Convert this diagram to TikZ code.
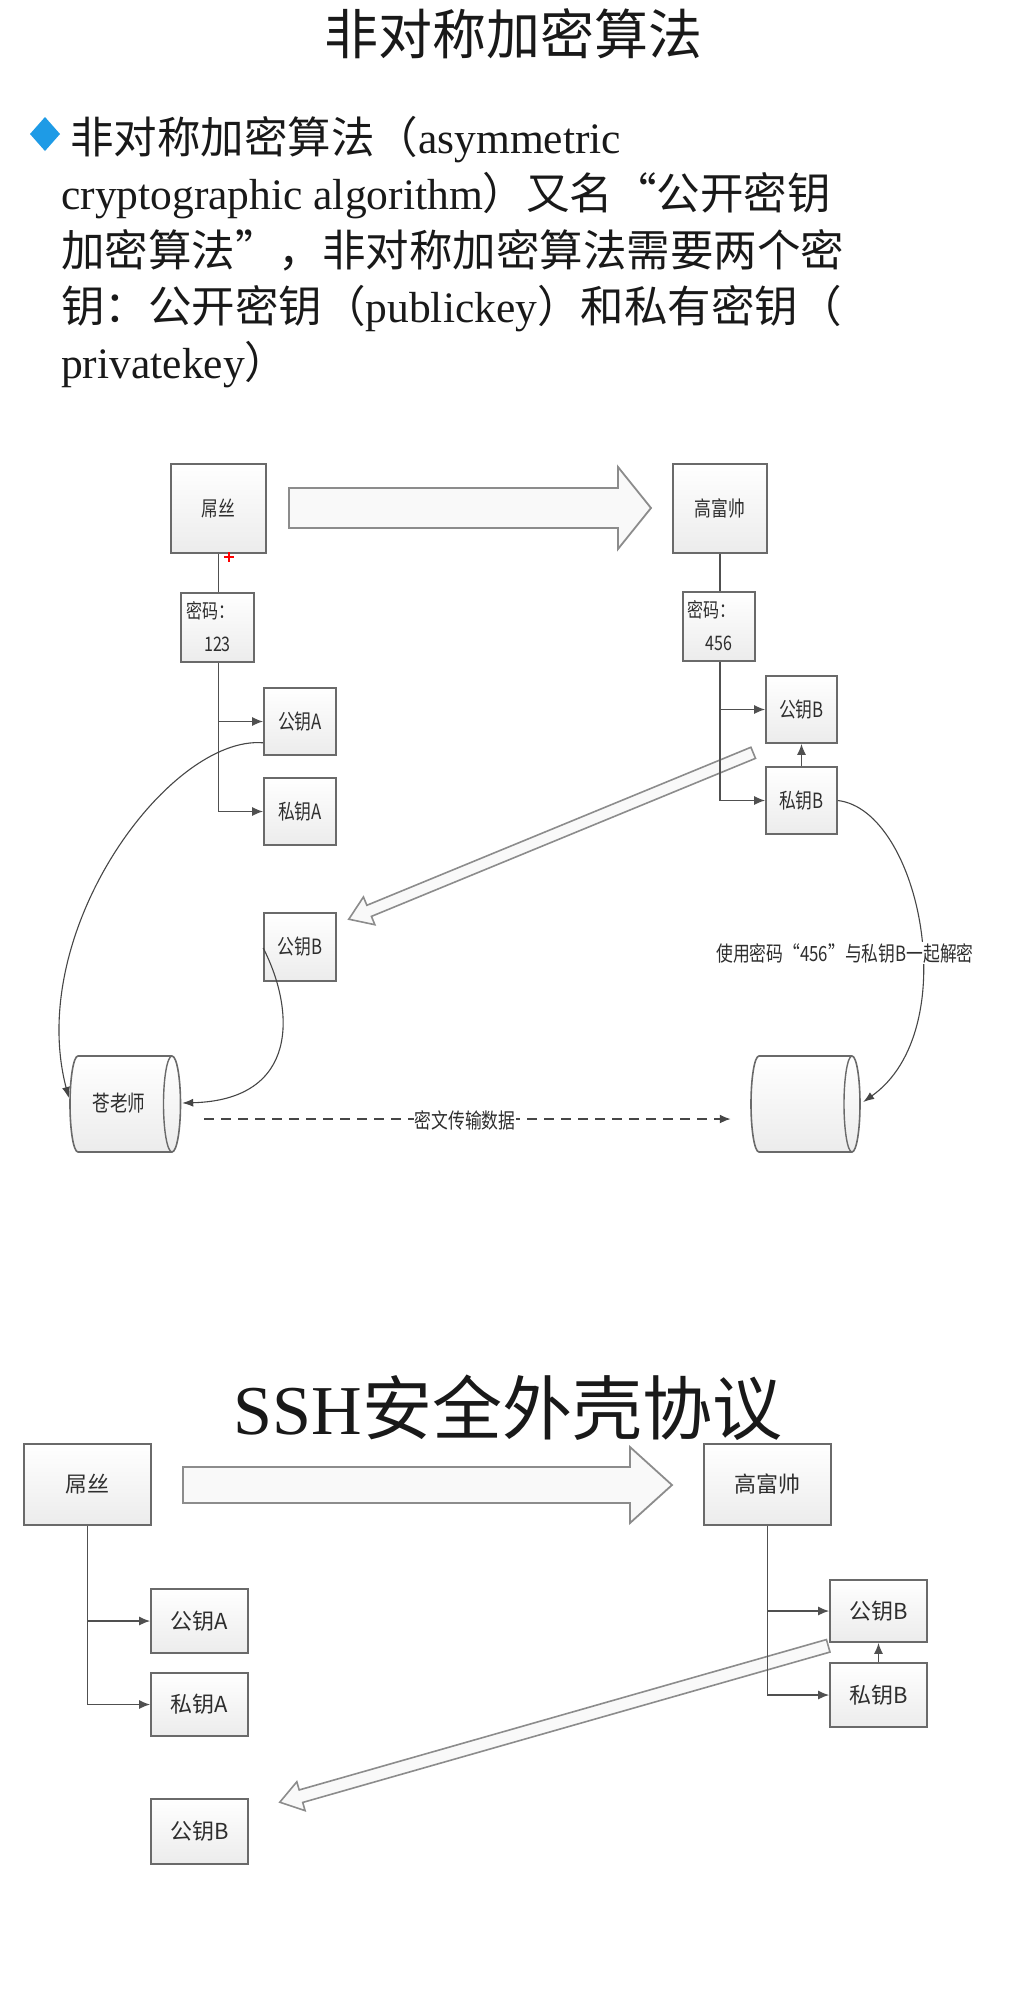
\documentclass[tikz,border=0pt]{standalone}
\usepackage{fontspec}
\usepackage{graphicx}
\setmainfont{Liberation Serif}
\newfontfamily\cjk{Noto Sans CJK SC}
\usetikzlibrary{arrows.meta,calc}
\definecolor{bord}{HTML}{6A6A6A}
\definecolor{linec}{HTML}{505050}
\definecolor{txt}{HTML}{2E2E2E}
\definecolor{bulletc}{HTML}{1E9BE6}
\newcommand{\ulab}[2][21]{\scalebox{0.8}[1]{\fontsize{#1}{#1}\selectfont\cjk #2}}
\newcommand{\llab}[1]{{\fontsize{22}{22}\selectfont\cjk #1}}
\begin{document}
\begin{tikzpicture}[x=1pt,y=-1pt,
  box/.style={draw=bord, line width=1.6pt, top color=white, bottom color=gray!15, inner sep=0pt, text=txt},
  conn/.style={draw=linec, line width=1.6pt, -{Latex[length=11pt,width=9pt]}},
  plain/.style={draw=linec, line width=1.6pt},
  curvec/.style={draw=gray!55!black, line width=1.1pt, -{Latex[length=11pt,width=8pt]}},
  bigarrow/.style={draw=gray!90, line width=1.8pt, fill=gray!5, line join=miter},
  body/.style={anchor=base west, inner sep=0pt, text=black!90},
]
\fill[white] (0,0) rectangle (1024,2000);
\useasboundingbox (0,0) rectangle (1024,2000);

% ---------- heading and bullet text ----------
\node[anchor=base, inner sep=0pt, text=black!90] (title) at (513,54) {\fontsize{54}{60}\selectfont\cjk 非对称加密算法};
\fill[bulletc] (45,117) -- (60,134) -- (45,151) -- (30,134) -- cycle;
\node[body] (l1) at (70,153.5) {\fontsize{43.5}{50}\selectfont{\cjk 非对称加密算法（}asymmetric};
\node[body] (l2) at (61,209.5) {\fontsize{43.5}{50}\selectfont cryptographic algorithm{\cjk ）又名“公开密钥}};
\node[body] (l3) at (61,266.5) {\fontsize{43.5}{50}\selectfont{\cjk 加密算法”，非对称加密算法需要两个密}};
\node[body] (l4) at (61,322.5) {\fontsize{43.5}{50}\selectfont{\cjk 钥：公开密钥（}publickey{\cjk ）和私有密钥（}};
\node[body] (l5) at (61,378.5) {\fontsize{43.5}{50}\selectfont privatekey{\cjk ）}};

% ---------- upper diagram ----------
\node[box, minimum width=95pt, minimum height=89pt] (u1) at (218.5,508.5) {\ulab{屌丝}};
\node[box, minimum width=94pt, minimum height=89pt] (u2) at (720,508.5) {\ulab{高富帅}};
\draw[bigarrow] (289,488) -- (618,488) -- (618,467) -- (651,508) -- (618,549) -- (618,528) -- (289,528) -- cycle;

\node[box, minimum width=73pt, minimum height=69pt] (pw1) at (217.5,627.5) {};
\node[anchor=west, inner sep=0pt, text=txt] (pw1a) at (186,611) {\ulab[20]{密码：}};
\node[inner sep=0pt, text=txt] (pw1b) at (217.5,644) {\ulab[20]{123}};
\node[box, minimum width=72pt, minimum height=69pt] (pw2) at (719,626.5) {};
\node[anchor=west, inner sep=0pt, text=txt] (pw2a) at (687,610) {\ulab[20]{密码：}};
\node[inner sep=0pt, text=txt] (pw2b) at (719,643) {\ulab[20]{456}};

\node[box, minimum width=72pt, minimum height=67pt] (pubA) at (300,721.5) {\ulab{公钥A}};
\node[box, minimum width=72pt, minimum height=67pt] (priA) at (300,811.5) {\ulab{私钥A}};
\node[box, minimum width=71pt, minimum height=67pt] (pubB) at (801.5,709.5) {\ulab{公钥B}};
\node[box, minimum width=71pt, minimum height=67pt] (priB) at (801.5,800.5) {\ulab{私钥B}};
\node[box, minimum width=72pt, minimum height=68pt] (pubBL) at (300,947) {\ulab{公钥B}};

% cylinders
\node[inner sep=0pt, minimum width=110pt, minimum height=96pt] (cyl1) at (125,1104) {};
\path[box] (78,1056) -- (172,1056) arc[start angle=90,end angle=-90,x radius=8.5pt,y radius=48pt]
  -- (78,1152) arc[start angle=270,end angle=90,x radius=8pt,y radius=48pt] -- cycle;
\draw[draw=bord, line width=1.4pt] (172,1056) arc[start angle=90,end angle=270,x radius=8.5pt,y radius=48pt];
\node[inner sep=0pt, text=txt] (cyl1t) at (119,1103) {\ulab[22]{苍老师}};

\node[inner sep=0pt, minimum width=110pt, minimum height=96pt] (cyl2) at (806,1104) {};
\path[box] (759,1056) -- (852,1056) arc[start angle=90,end angle=-90,x radius=8pt,y radius=48pt]
  -- (759,1152) arc[start angle=270,end angle=90,x radius=8pt,y radius=48pt] -- cycle;
\draw[draw=bord, line width=1.4pt] (852,1056) arc[start angle=90,end angle=270,x radius=8pt,y radius=48pt];

% diagonal hollow arrow (upper)
\coordinate (dA) at ($(pubB.south west)+(-12,9)$);
\coordinate (dB) at ($(pubBL.north east)+(12,7)$);
\coordinate (dH) at ($(dB)!22pt!(dA)$);
\draw[bigarrow, line width=1.6pt] ($(dA)!6pt!90:(dB)$) -- ($(dH)!6pt!90:(dB)$) -- ($(dH)!15pt!90:(dB)$) -- (dB)
  -- ($(dH)!15pt!-90:(dB)$) -- ($(dH)!6pt!-90:(dB)$) -- ($(dA)!6pt!-90:(dB)$) -- cycle;

% connectors upper
\draw[plain] (u1.south) -- (u1.south |- pw1.north);
\draw[conn] (u1.south |- pw1.south) |- (priA.west);
\draw[conn] (u1.south |- pubA.west) -- (pubA.west);
\draw[plain] (u2.south) -- (u2.south |- pw2.north);
\draw[conn] (u2.south |- pw2.south) |- (priB.west);
\draw[conn] (u2.south |- pubB.west) -- (pubB.west);
\draw[conn] (priB.north) -- (pubB.south);
\draw[red, line width=1.6pt] (224,557) -- (234,557) (229,552) -- (229,562);

\draw[curvec] ($(pubA.south west)+(0,-13)$) .. controls (170,735) and (25,930) .. ($(cyl1.west)+(-1,-6)$);
\draw[curvec] ($(pubBL.west)+(0,1)$) .. controls (295,1010) and (300,1100) .. ($(cyl1.east)+(2,-1)$);
\draw[curvec] (priB.east) .. controls (920,810) and (965,1030) .. ($(cyl2.east)+(2,-2)$);
\node[fill=white, inner sep=1pt, text=txt] (declab) at (845,953) {\ulab{使用密码“456”与私钥B一起解密}};

\draw[draw=gray!55!black, line width=1.9pt, dash pattern=on 10pt off 7pt, -{Latex[length=11pt,width=9pt]}]
  ($(cyl1.east)+(24,15)$) -- ($(cyl2.west)+(-20,15)$);
\node[fill=white, inner sep=1pt, text=txt] (dlab) at (465,1120) {\ulab{密文传输数据}};

% ---------- lower diagram ----------
\node[anchor=base, inner sep=0pt, text=black!90] (title2) at (508,1434) {\fontsize{70}{80}\selectfont SSH{\cjk 安全外壳协议}};
\node[box, minimum width=127pt, minimum height=81pt] (v1) at (87.5,1484.5) {\llab{屌丝}};
\node[box, minimum width=127pt, minimum height=81pt] (v2) at (767.5,1484.5) {\llab{高富帅}};
\draw[bigarrow] (183,1467) -- (630,1467) -- (630,1447) -- (672,1485) -- (630,1523) -- (630,1503) -- (183,1503) -- cycle;

\node[box, minimum width=97pt, minimum height=64pt] (pubA2) at (199.5,1621) {\llab{公钥A}};
\node[box, minimum width=97pt, minimum height=63pt] (priA2) at (199.5,1704.5) {\llab{私钥A}};
\node[box, minimum width=97pt, minimum height=65pt] (pubBL2) at (199.5,1831.5) {\llab{公钥B}};
\node[box, minimum width=97pt, minimum height=62pt] (pubB2) at (878.5,1611) {\llab{公钥B}};
\node[box, minimum width=97pt, minimum height=64pt] (priB2) at (878.5,1695) {\llab{私钥B}};

\coordinate (eA) at ($(pubB2.south west)+(-1,3)$);
\coordinate (eB) at ($(pubBL2.north east)+(31,4)$);
\coordinate (eH) at ($(eB)!22pt!(eA)$);
\draw[bigarrow, line width=1.6pt] ($(eA)!6.5pt!90:(eB)$) -- ($(eH)!6.5pt!90:(eB)$) -- ($(eH)!15pt!90:(eB)$) -- (eB)
  -- ($(eH)!15pt!-90:(eB)$) -- ($(eH)!6.5pt!-90:(eB)$) -- ($(eA)!6.5pt!-90:(eB)$) -- cycle;

\draw[conn] (v1.south) |- (priA2.west);
\draw[conn] (v1.south |- pubA2.west) -- (pubA2.west);
\draw[conn] (v2.south) |- (priB2.west);
\draw[conn] (v2.south |- pubB2.west) -- (pubB2.west);
\draw[conn] (priB2.north) -- (pubB2.south);
\end{tikzpicture}
\end{document}
